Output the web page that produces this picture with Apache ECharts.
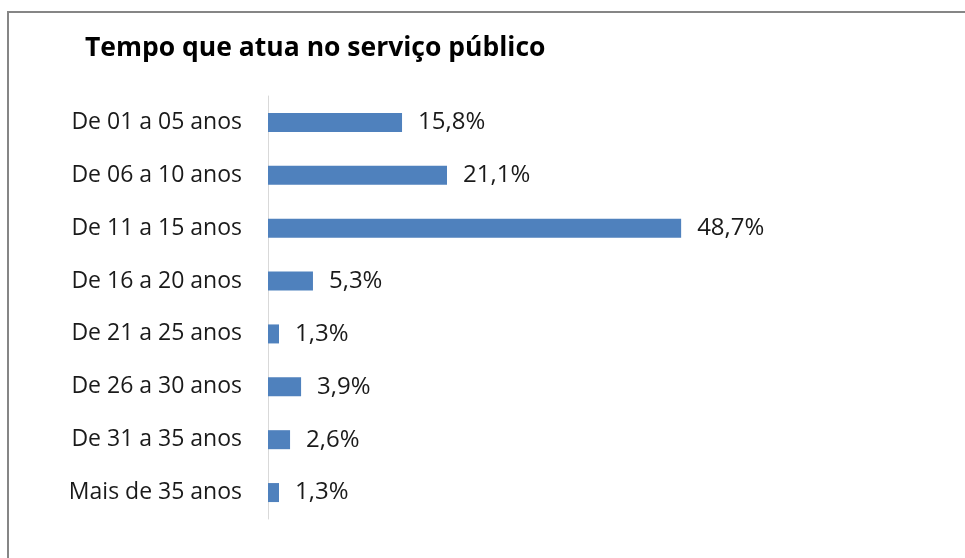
<!DOCTYPE html>
<html><head><meta charset="utf-8">
<script src="https://cdn.jsdelivr.net/npm/echarts@6/dist/echarts.min.js"></script>
<style>html,body{margin:0;padding:0;background:#fff}#c{width:965px;height:558px}</style>
</head><body><div id="c"></div>
<script>
const categories = ["De 01 a 05 anos","De 06 a 10 anos","De 11 a 15 anos","De 16 a 20 anos","De 21 a 25 anos","De 26 a 30 anos","De 31 a 35 anos","Mais de 35 anos"];
const values = [15.8, 21.1, 48.7, 5.3, 1.3, 3.9, 2.6, 1.3];
const titleText = "Tempo que atua no serviço público";

const chart = echarts.init(document.getElementById('c'), null, {renderer:'canvas'});
chart.setOption({
  animation:false,
  backgroundColor:'#fff',
  graphic:[{type:'rect', shape:{x:8,y:12,width:1000,height:600}, style:{fill:'none', stroke:'#868686', lineWidth:2}, silent:true}],
  title:{text:titleText, left:80, top:30, textStyle:{fontFamily:'Open Sans', fontSize:26.5, fontWeight:'bold', color:'#000'}},
  grid:{left:268, top:96, width:509, height:423, containLabel:false},
  xAxis:{type:'value', min:0, max:60, show:false},
  yAxis:{type:'category', data:categories, inverse:true,
    axisLine:{show:true, lineStyle:{color:'#d9d9d9', width:1}},
    axisTick:{show:false},
    axisLabel:{fontFamily:'Open Sans', fontSize:23, color:'#1a1a1a', margin:26}},
  series:[{type:'bar', data:values, barWidth:19,
    itemStyle:{color:'#4f81bd'},
    label:{show:true, position:'right', distance:16, fontFamily:'Open Sans', fontSize:24, color:'#1a1a1a',
      formatter:p=>p.value.toFixed(1).replace('.',',')+'%'}}]
});
</script></body></html>
